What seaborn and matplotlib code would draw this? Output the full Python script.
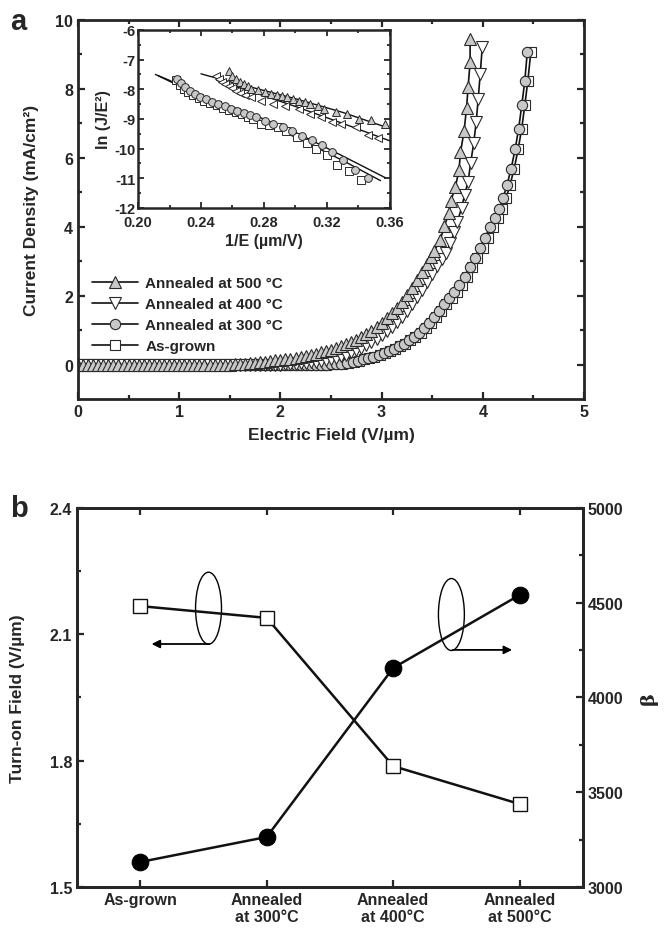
import matplotlib
matplotlib.use("Agg")
import matplotlib.pyplot as plt
import seaborn as sns
from matplotlib.patches import Ellipse
from matplotlib.ticker import MultipleLocator, FixedLocator

# ---------------- data: panel a (J-E curves) ----------------
E_500 = [0.00, 0.05, 0.10, 0.15, 0.20, 0.25, 0.30, 0.35, 0.40, 0.45, 0.50, 0.55, 0.60, 0.65, 0.70,
         0.75, 0.80, 0.85, 0.90, 0.95, 1.00, 1.05, 1.10, 1.15, 1.20, 1.25, 1.30, 1.35, 1.40, 1.45,
         1.50, 1.55, 1.60, 1.65, 1.70, 1.75, 1.80, 1.85, 1.90, 1.95, 2.00, 2.05, 2.10, 2.15, 2.20,
         2.25, 2.30, 2.35, 2.40, 2.45, 2.50, 2.55, 2.60, 2.65, 2.70, 2.75, 2.80, 2.85, 2.90, 2.95,
         3.00, 3.05, 3.10, 3.15, 3.20, 3.25, 3.30, 3.35, 3.40, 3.45, 3.49, 3.52, 3.58, 3.62, 3.665,
         3.685, 3.73, 3.765, 3.78, 3.815, 3.84, 3.855, 3.875, 3.875]
J_500 = [0.00, 0.00, 0.00, 0.00, 0.00, 0.00, 0.00, 0.00, 0.00, 0.00, 0.00, 0.00, 0.00, 0.00, 0.00,
         0.00, 0.00, 0.00, 0.00, 0.00, 0.00, 0.00, 0.00, 0.00, 0.00, 0.00, 0.00, 0.00, 0.00, 0.00,
         0.00, 0.01, 0.02, 0.03, 0.04, 0.05, 0.06, 0.08, 0.10, 0.12, 0.14, 0.15, 0.17, 0.19, 0.21,
         0.24, 0.27, 0.30, 0.35, 0.39, 0.43, 0.48, 0.53, 0.60, 0.66, 0.72, 0.80, 0.89, 0.98, 1.09,
         1.20, 1.34, 1.49, 1.65, 1.82, 2.01, 2.22, 2.45, 2.68, 2.93, 3.12, 3.29, 3.62, 4.01, 4.39,
         4.75, 5.16, 5.64, 6.16, 6.77, 7.45, 8.05, 8.78, 9.45]

E_400 = [0.00, 0.05, 0.10, 0.15, 0.20, 0.25, 0.30, 0.35, 0.40, 0.45, 0.50, 0.55, 0.60, 0.65, 0.70,
         0.75, 0.80, 0.85, 0.90, 0.95, 1.00, 1.05, 1.10, 1.15, 1.20, 1.25, 1.30, 1.35, 1.40, 1.45,
         1.50, 1.55, 1.60, 1.65, 1.70, 1.75, 1.80, 1.85, 1.90, 1.95, 2.00, 2.05, 2.10, 2.15, 2.20,
         2.25, 2.30, 2.35, 2.40, 2.45, 2.50, 2.55, 2.60, 2.65, 2.70, 2.75, 2.80, 2.85, 2.90, 2.95,
         3.00, 3.05, 3.10, 3.15, 3.20, 3.25, 3.30, 3.35, 3.40, 3.45, 3.50, 3.55, 3.60, 3.64, 3.68,
         3.72, 3.75, 3.79, 3.82, 3.855, 3.88, 3.91, 3.935, 3.955, 3.975, 3.995]
J_400 = [0.00, 0.00, 0.00, 0.00, 0.00, 0.00, 0.00, 0.00, 0.00, 0.00, 0.00, 0.00, 0.00, 0.00, 0.00,
         0.00, 0.00, 0.00, 0.00, 0.00, 0.00, 0.00, 0.00, 0.00, 0.00, 0.00, 0.00, 0.00, 0.00, 0.00,
         0.00, 0.00, 0.00, 0.00, 0.00, 0.00, 0.00, 0.00, 0.00, 0.00, 0.00, 0.01, 0.02, 0.03, 0.04,
         0.05, 0.06, 0.08, 0.10, 0.12, 0.15, 0.19, 0.24, 0.29, 0.35, 0.41, 0.48, 0.56, 0.65, 0.75,
         0.86, 0.98, 1.10, 1.24, 1.38, 1.55, 1.75, 1.95, 2.17, 2.40, 2.62, 2.85, 3.05, 3.24, 3.53,
         3.86, 4.15, 4.54, 4.92, 5.31, 5.84, 6.42, 7.04, 7.72, 8.44, 9.21]

E_300 = [0.00, 0.05, 0.10, 0.15, 0.20, 0.25, 0.30, 0.35, 0.40, 0.45, 0.50, 0.55, 0.60, 0.65, 0.70,
         0.75, 0.80, 0.85, 0.90, 0.95, 1.00, 1.05, 1.10, 1.15, 1.20, 1.25, 1.30, 1.35, 1.40, 1.45,
         1.50, 1.55, 1.60, 1.65, 1.70, 1.75, 1.80, 1.85, 1.90, 1.95, 2.00, 2.05, 2.10, 2.15, 2.20,
         2.25, 2.30, 2.35, 2.40, 2.45, 2.50, 2.55, 2.60, 2.66, 2.72, 2.77, 2.82, 2.87, 2.92, 2.97,
         3.02, 3.07, 3.12, 3.17, 3.22, 3.27, 3.32, 3.37, 3.42, 3.47, 3.52, 3.57, 3.62, 3.67, 3.72,
         3.77, 3.82, 3.87, 3.92, 3.97, 4.02, 4.07, 4.12, 4.16, 4.20, 4.24, 4.28, 4.32, 4.355, 4.385,
         4.415, 4.44]
J_300 = [0.00, 0.00, 0.00, 0.00, 0.00, 0.00, 0.00, 0.00, 0.00, 0.00, 0.00, 0.00, 0.00, 0.00, 0.00,
         0.00, 0.00, 0.00, 0.00, 0.00, 0.00, 0.00, 0.00, 0.00, 0.00, 0.00, 0.00, 0.00, 0.00, 0.00,
         0.00, 0.00, 0.00, 0.00, 0.00, 0.00, 0.00, 0.00, 0.00, 0.00, 0.00, 0.00, 0.00, 0.00, 0.00,
         0.00, 0.00, 0.00, 0.00, 0.00, 0.01, 0.02, 0.03, 0.05, 0.08, 0.11, 0.15, 0.19, 0.23, 0.28,
         0.33, 0.39, 0.45, 0.53, 0.61, 0.70, 0.81, 0.93, 1.06, 1.21, 1.38, 1.56, 1.76, 1.93, 2.10,
         2.30, 2.55, 2.83, 3.10, 3.38, 3.68, 3.98, 4.25, 4.50, 4.82, 5.22, 5.68, 6.25, 6.85, 7.52,
         8.22, 9.07]

E_AG = [0.00, 0.05, 0.10, 0.15, 0.20, 0.25, 0.30, 0.35, 0.40, 0.45, 0.50, 0.55, 0.60, 0.65, 0.70,
        0.75, 0.80, 0.85, 0.90, 0.95, 1.00, 1.05, 1.10, 1.15, 1.20, 1.25, 1.30, 1.35, 1.40, 1.45,
        1.50, 1.55, 1.60, 1.65, 1.70, 1.75, 1.80, 1.85, 1.90, 1.95, 2.00, 2.05, 2.10, 2.15, 2.20,
        2.25, 2.30, 2.35, 2.40, 2.45, 2.50, 2.55, 2.61, 2.67, 2.73, 2.78, 2.83, 2.88, 2.93, 2.98,
        3.03, 3.08, 3.13, 3.185, 3.235, 3.285, 3.335, 3.385, 3.44, 3.49, 3.54, 3.59, 3.64, 3.695, 3.745,
        3.795, 3.845, 3.895, 3.945, 4.00, 4.05, 4.10, 4.15, 4.19, 4.23, 4.27, 4.31, 4.35, 4.385, 4.415,
        4.445, 4.475]
J_AG = [0.00, 0.00, 0.00, 0.00, 0.00, 0.00, 0.00, 0.00, 0.00, 0.00, 0.00, 0.00, 0.00, 0.00, 0.00,
        0.00, 0.00, 0.00, 0.00, 0.00, 0.00, 0.00, 0.00, 0.00, 0.00, 0.00, 0.00, 0.00, 0.00, 0.00,
        0.00, 0.00, 0.00, 0.00, 0.00, 0.00, 0.00, 0.00, 0.00, 0.00, 0.00, 0.00, 0.00, 0.00, 0.00,
        0.00, 0.00, 0.00, 0.00, 0.00, 0.01, 0.02, 0.03, 0.05, 0.08, 0.11, 0.15, 0.19, 0.23, 0.28,
        0.33, 0.39, 0.45, 0.53, 0.61, 0.70, 0.81, 0.93, 1.06, 1.21, 1.38, 1.56, 1.76, 1.93, 2.10,
        2.30, 2.55, 2.83, 3.10, 3.38, 3.68, 3.98, 4.25, 4.50, 4.82, 5.22, 5.68, 6.25, 6.85, 7.52,
        8.22, 9.07]

# ---------------- data: inset (F-N plot) ----------------
X_500 = [0.2576, 0.2600, 0.2625, 0.2650, 0.2675, 0.2700, 0.2720, 0.2760, 0.2805, 0.2845, 0.2880,
         0.2915, 0.2946, 0.2985, 0.3020, 0.3060, 0.3094, 0.3140, 0.3180, 0.3254, 0.3330, 0.3404,
         0.3479, 0.3570]
Y_500 = [-7.38, -7.55, -7.66, -7.75, -7.83, -7.90, -7.99, -8.04, -8.10, -8.15, -8.21,
         -8.24, -8.27, -8.33, -8.38, -8.43, -8.49, -8.56, -8.66, -8.75, -8.83, -9.00,
         -9.05, -9.16]
X_400 = [0.2494, 0.2515, 0.2535, 0.2555, 0.2575, 0.2600, 0.2625, 0.2650, 0.2680, 0.2720, 0.2780,
         0.2856, 0.2933, 0.3020, 0.3094, 0.3160, 0.3230, 0.3286, 0.3383, 0.3460, 0.3524]
Y_400 = [-7.56, -7.66, -7.75, -7.83, -7.90, -7.97, -8.05, -8.13, -8.21, -8.27, -8.38,
         -8.49, -8.55, -8.66, -8.83, -8.94, -9.11, -9.16, -9.28, -9.53, -9.64]
X_300 = [0.2250, 0.2275, 0.2300, 0.2330, 0.2360, 0.2395, 0.2430, 0.2470, 0.2510, 0.2550, 0.2590,
         0.2630, 0.2670, 0.2710, 0.2752, 0.2805, 0.2860, 0.2922, 0.2976, 0.3040, 0.3105, 0.3170,
         0.3230, 0.3300, 0.3380, 0.3460]
Y_300 = [-7.65, -7.80, -7.93, -8.05, -8.15, -8.25, -8.33, -8.42, -8.50, -8.58, -8.66,
         -8.73, -8.80, -8.87, -8.94, -9.08, -9.16, -9.28, -9.39, -9.58, -9.72, -9.89,
         -10.11, -10.40, -10.73, -10.99]
X_AG = [0.2240, 0.2265, 0.2290, 0.2320, 0.2350, 0.2385, 0.2420, 0.2460, 0.2500, 0.2540, 0.2580,
        0.2620, 0.2660, 0.2700, 0.2730, 0.2780, 0.2830, 0.2890, 0.2940, 0.3010, 0.3070, 0.3130,
        0.3200, 0.3265, 0.3340, 0.3415]
Y_AG = [-7.70, -7.86, -7.99, -8.10, -8.20, -8.30, -8.38, -8.46, -8.54, -8.62, -8.70,
        -8.77, -8.84, -8.92, -9.00, -9.16, -9.20, -9.28, -9.39, -9.61, -9.80, -10.00,
        -10.23, -10.54, -10.76, -11.07]
# fitted lines in inset
FX_500 = [0.240, 0.255, 0.272, 0.300, 0.330, 0.362]
FY_500 = [-7.48, -7.70, -7.93, -8.32, -8.78, -9.36]
FX_400 = [0.250, 0.272, 0.300, 0.330, 0.362]
FY_400 = [-7.70, -8.08, -8.58, -9.15, -9.78]
FX_300 = [0.211, 0.220, 0.230, 0.240, 0.250, 0.260, 0.272, 0.300, 0.330, 0.357]
FY_300 = [-7.50, -7.70, -7.98, -8.22, -8.42, -8.60, -8.83, -9.45, -10.25, -10.98]
FX_AG = [0.213, 0.222, 0.232, 0.242, 0.252, 0.262, 0.272, 0.300, 0.330, 0.354]
FY_AG = [-7.55, -7.78, -8.05, -8.28, -8.48, -8.68, -8.94, -9.62, -10.40, -11.08]

# ---------------- data: panel b ----------------
samples = ["As-grown", "Annealed\nat 300°C", "Annealed\nat 400°C", "Annealed\nat 500°C"]
turn_on = [2.167, 2.139, 1.787, 1.697]
beta = [3132, 3264, 4156, 4541]

labels_a = ["Annealed at 500 °C", "Annealed at 400 °C", "Annealed at 300 °C", "As-grown"]

# ---------------- style ----------------
sns.set_style("ticks")
plt.rcParams["font.family"] = ["Liberation Sans", "DejaVu Sans"]
plt.rcParams["font.weight"] = "bold"
plt.rcParams["axes.labelweight"] = "bold"
plt.rcParams["axes.unicode_minus"] = False
plt.rcParams["axes.linewidth"] = 2.0
plt.rcParams["xtick.direction"] = "in"
plt.rcParams["ytick.direction"] = "in"

GRAY = "#c8c8c8"
EDGE = "#2a2a2a"

fig = plt.figure(figsize=(6.67, 9.37), dpi=100)

# ---------------- panel a ----------------
axa = fig.add_axes([0.1169, 0.5731, 0.7586, 0.4045])
series_a = [
    (E_AG, J_AG, "s", "white", 7.0, labels_a[3]),
    (E_300, J_300, "o", GRAY, 7.4, labels_a[2]),
    (E_400, J_400, "v", "white", 8.6, labels_a[1]),
    (E_500, J_500, "^", GRAY, 8.6, labels_a[0]),
]
for ex, jy, mk, fc, ms, lab in series_a:
    sns.lineplot(x=ex, y=jy, ax=axa, estimator=None, sort=False, color="#111111", lw=1.2,
                 marker=mk, markersize=ms, markerfacecolor=fc, markeredgecolor=EDGE,
                 markeredgewidth=0.8, label=lab)
axa.set_xlim(0, 5)
axa.set_ylim(-1, 10)
axa.xaxis.set_major_locator(MultipleLocator(1))
axa.xaxis.set_minor_locator(MultipleLocator(0.5))
axa.yaxis.set_major_locator(FixedLocator([0, 2, 4, 6, 8, 10]))
axa.yaxis.set_minor_locator(FixedLocator([1, 3, 5, 7, 9]))
axa.tick_params(which="both", top=True, right=True, width=1.6, labelsize=11.5)
axa.tick_params(which="major", length=5)
axa.tick_params(which="minor", length=3)
axa.set_xlabel("Electric Field (V/µm)", fontsize=12.5, labelpad=6)
axa.set_ylabel("Current Density (mA/cm²)", fontsize=12.5, labelpad=12)
for lab in axa.get_xticklabels() + axa.get_yticklabels():
    lab.set_fontweight("bold")
h, l = axa.get_legend_handles_labels()
order = [l.index(s) for s in labels_a]
leg = axa.legend([h[i] for i in order], [l[i] for i in order], loc="upper left",
                 bbox_to_anchor=(0.015, 0.34), frameon=False, fontsize=11,
                 handlelength=3.0, labelspacing=0.45, handletextpad=0.5, borderaxespad=0)
for t in leg.get_texts():
    t.set_fontweight("bold")

# inset
axi = fig.add_axes([0.2069, 0.7770, 0.3778, 0.1900])
for fx, fy in [(FX_500, FY_500), (FX_400, FY_400), (FX_300, FY_300), (FX_AG, FY_AG)]:
    sns.lineplot(x=fx, y=fy, ax=axi, estimator=None, sort=False, color="#111111", lw=1.0)
for ix, iy, mk, fc, ms in [(X_AG, Y_AG, "s", "white", 5.2), (X_300, Y_300, "o", GRAY, 5.6),
                           (X_400, Y_400, "<", "white", 6.2), (X_500, Y_500, "^", GRAY, 6.2)]:
    sns.lineplot(x=ix, y=iy, ax=axi, estimator=None, sort=False, lw=0, marker=mk,
                 markersize=ms, markerfacecolor=fc, markeredgecolor=EDGE, markeredgewidth=0.7)
axi.set_xlim(0.20, 0.36)
axi.set_ylim(-12, -6)
axi.xaxis.set_major_locator(FixedLocator([0.20, 0.24, 0.28, 0.32, 0.36]))
axi.xaxis.set_minor_locator(FixedLocator([0.22, 0.26, 0.30, 0.34]))
axi.yaxis.set_major_locator(MultipleLocator(1))
axi.yaxis.set_minor_locator(MultipleLocator(0.5))
axi.set_xticklabels(["0.20", "0.24", "0.28", "0.32", "0.36"])
axi.tick_params(which="both", top=True, right=True, width=1.3, labelsize=10.5)
axi.tick_params(axis="y", pad=2)
axi.tick_params(axis="x", pad=5)
axi.tick_params(which="major", length=4)
axi.tick_params(which="minor", length=2.5)
for s in axi.spines.values():
    s.set_linewidth(1.8)
axi.set_xlabel("1/E (µm/V)", fontsize=11.5, labelpad=3)
axi.set_ylabel("ln (J/E²)", fontsize=11.5, labelpad=2)
for lab in axi.get_xticklabels() + axi.get_yticklabels():
    lab.set_fontweight("bold")

fig.text(0.015, 0.977, "a", fontsize=21, fontweight="bold", va="center")

# ---------------- panel b ----------------
axb = fig.add_axes([0.1154, 0.0523, 0.7586, 0.4045])
xpos = list(range(len(samples)))
sns.lineplot(x=xpos, y=turn_on, ax=axb, estimator=None, sort=False, color="#111111", lw=1.8,
             marker="s", markersize=10.5, markerfacecolor="white", markeredgecolor="#111111",
             markeredgewidth=1.0)
axb.set_xlim(-0.5, 3.5)
axb.set_ylim(1.5, 2.4)
axb.set_xticks(xpos)
axb.set_xticklabels(samples, fontsize=11.5, fontweight="bold", linespacing=1.2)
axb.yaxis.set_major_locator(FixedLocator([1.5, 1.8, 2.1, 2.4]))
axb.yaxis.set_minor_locator(FixedLocator([1.65, 1.95, 2.25]))
axb.set_yticklabels(["1.5", "1.8", "2.1", "2.4"])
axb.tick_params(which="both", top=True, width=1.6, labelsize=11.5)
axb.tick_params(which="major", length=5)
axb.tick_params(which="minor", length=3)
axb.set_ylabel("Turn-on Field (V/µm)", fontsize=12.5, labelpad=18)
for lab in axb.get_yticklabels():
    lab.set_fontweight("bold")

axb2 = axb.twinx()
sns.lineplot(x=xpos, y=beta, ax=axb2, estimator=None, sort=False, color="#111111", lw=1.8,
             marker="o", markersize=12, markerfacecolor="black", markeredgecolor="black")
axb2.set_ylim(3000, 5000)
axb2.yaxis.set_major_locator(MultipleLocator(500))
axb2.yaxis.set_minor_locator(MultipleLocator(250))
axb2.tick_params(which="both", direction="in", width=1.6, labelsize=11.5)
axb2.tick_params(which="major", length=5)
axb2.tick_params(which="minor", length=3)
for lab in axb2.get_yticklabels():
    lab.set_fontweight("bold")
axb2.set_ylabel("β", fontsize=14, family=["DejaVu Serif"], labelpad=12)
for ax in (axb, axb2):
    for s in ax.spines.values():
        s.set_linewidth(2.0)

# ellipses with arrows
axb.add_patch(Ellipse((0.54, 2.162), 0.205, 0.171, fill=False, lw=1.0, ec="black"))
axb.annotate("", xy=(0.09, 2.077), xytext=(0.545, 2.077),
             arrowprops=dict(arrowstyle="-|>", color="black", lw=1.3, mutation_scale=12,
                             shrinkA=0, shrinkB=0))
axb.add_patch(Ellipse((2.46, 2.147), 0.205, 0.171, fill=False, lw=1.0, ec="black"))
axb.annotate("", xy=(2.94, 2.063), xytext=(2.47, 2.063),
             arrowprops=dict(arrowstyle="-|>", color="black", lw=1.3, mutation_scale=12,
                             shrinkA=0, shrinkB=0))

fig.text(0.015, 0.457, "b", fontsize=21, fontweight="bold", va="center")

fig.savefig("out.png", dpi=100)
